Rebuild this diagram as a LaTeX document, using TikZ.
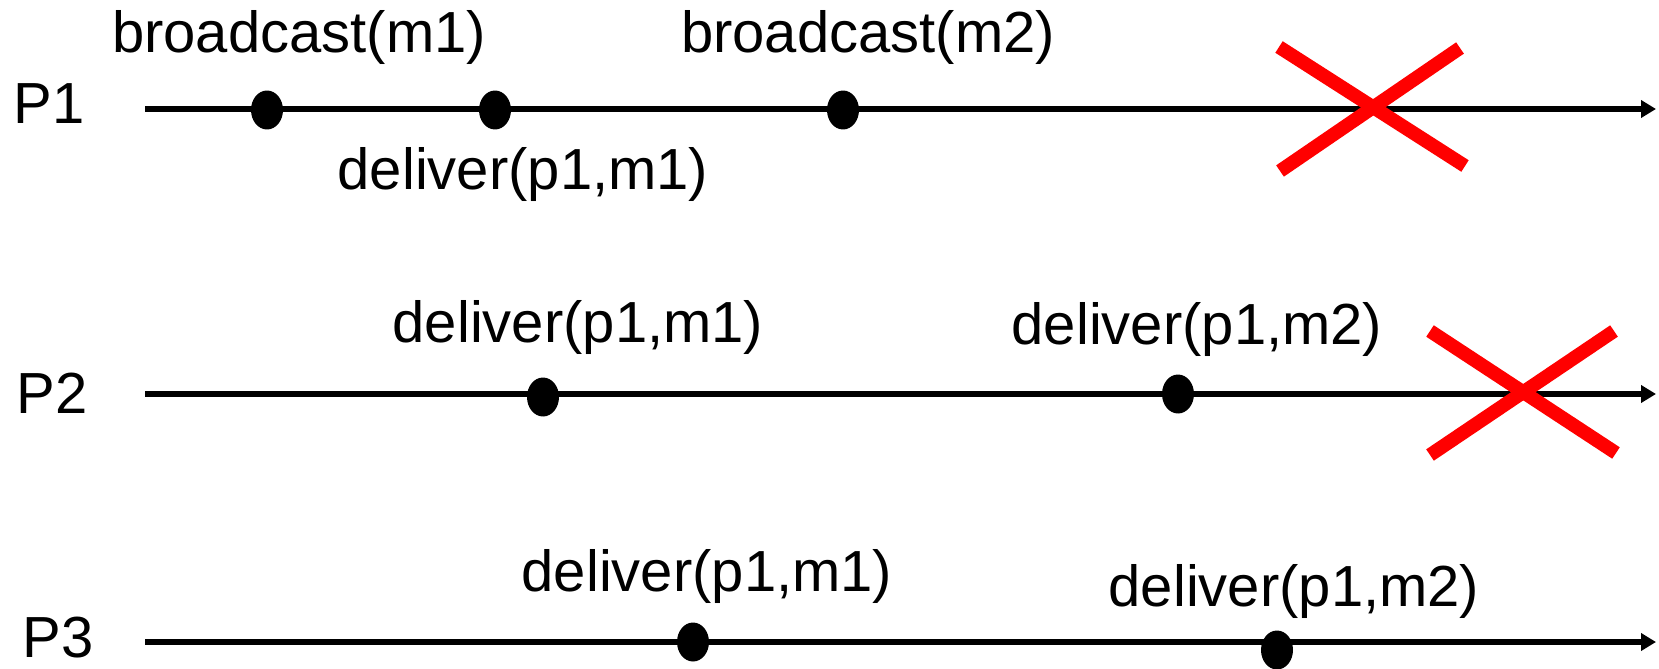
\documentclass[tikz,border=0pt]{standalone}
\usepackage{fontspec}
\setmainfont{Liberation Sans}
\usetikzlibrary{arrows.meta,shapes.geometric}
\begin{document}
\begin{tikzpicture}[x=0.02cm,y=-0.02cm,
  lbl/.style={inner sep=0pt,font=\fontsize{33}{40}\selectfont},
  evt/.style={ellipse,fill=black,inner sep=0pt,minimum width=0.64cm,minimum height=0.78cm},
  timeline/.style={line width=3pt,-{Triangle[length=0.3cm,width=0.34cm]}},
  crash/.style={red,line width=7.8pt}]
\useasboundingbox (0,0) rectangle (1659,669);

% process time lines
\coordinate (a1) at (145,109);  \coordinate (b1) at (1656,109);
\coordinate (a2) at (145,394);  \coordinate (b2) at (1656,394);
\coordinate (a3) at (145,642);  \coordinate (b3) at (1656,642);
\draw[timeline] (a1) -- (b1);
\draw[timeline] (a2) -- (b2);
\draw[timeline] (a3) -- (b3);

\node[lbl,anchor=west] (n1) at (13,104) {P1};
\node[lbl,anchor=west] (n2) at (16,393) {P2};
\node[lbl,anchor=west] (n3) at (22,638) {P3};

% events on P1
\node[evt] (e11) at (267,110) {};
\node[evt] (e12) at (495,110) {};
\node[evt] (e13) at (843,110) {};
\node[lbl] (t11) at (299,37) {broadcast(m1)};
\node[lbl] (t13) at (868,37) {broadcast(m2)};
\node[lbl] (t12) at (523,175) {deliver(p1,m1)};

% events on P2
\node[evt] (e21) at (543,397) {};
\node[evt] (e22) at (1178,394) {};
\node[lbl] (t21) at (578,328) {deliver(p1,m1)};
\node[lbl] (t22) at (1197,330) {deliver(p1,m2)};

% events on P3
\node[evt] (e31) at (693,642) {};
\node[evt] (e32) at (1277,650) {};
\node[lbl] (t31) at (707,577) {deliver(p1,m1)};
\node[lbl] (t32) at (1294,592) {deliver(p1,m2)};

% crashes
\coordinate (c1a) at (1279,47);  \coordinate (c1b) at (1465,166);
\coordinate (c1c) at (1280,171); \coordinate (c1d) at (1460,48);
\draw[crash] (c1a) -- (c1b);
\draw[crash] (c1c) -- (c1d);
\coordinate (c2a) at (1430,331); \coordinate (c2b) at (1616,453);
\coordinate (c2c) at (1430,455); \coordinate (c2d) at (1614,331);
\draw[crash] (c2a) -- (c2b);
\draw[crash] (c2c) -- (c2d);
\end{tikzpicture}
\end{document}
